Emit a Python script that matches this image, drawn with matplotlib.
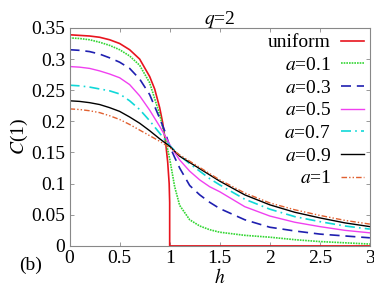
import numpy as np
import matplotlib
matplotlib.use("Agg")
import matplotlib.pyplot as plt

plt.rcParams['font.family'] = ['Liberation Serif', 'DejaVu Serif']
plt.rcParams['mathtext.fontset'] = 'stix'
plt.rcParams['font.size'] = 14

# values (q=2)
h = [0, 0.1, 0.2, 0.3, 0.4, 0.5, 0.6, 0.7, 0.8, 0.9, 0.95, 1.0, 1.05, 1.1,
     1.2, 1.3, 1.4, 1.5, 1.75, 2.0, 2.25, 2.5, 2.75, 3.0]

h_uniform = [0, 0.1, 0.2, 0.3, 0.4, 0.5, 0.6, 0.7, 0.8, 0.85, 0.9, 0.93,
             0.96, 0.98, 0.995, 1.0, 1.0, 3.0]
c_uniform = [0.339, 0.338, 0.337, 0.335, 0.331, 0.325, 0.315, 0.300, 0.272,
             0.252, 0.222, 0.198, 0.165, 0.135, 0.100, 0.070, 0.0, 0.0]

c_a01 = [0.334, 0.333, 0.331, 0.327, 0.322, 0.315, 0.305, 0.290, 0.262, 0.211,
         0.177, 0.140, 0.095, 0.065, 0.042, 0.032, 0.026, 0.022, 0.017, 0.014,
         0.010, 0.007, 0.005, 0.003]
c_a03 = [0.315, 0.314, 0.312, 0.308, 0.302, 0.295, 0.285, 0.268, 0.243, 0.205,
         0.185, 0.160, 0.142, 0.125, 0.097, 0.082, 0.070, 0.060, 0.042, 0.030,
         0.024, 0.019, 0.016, 0.013]
c_a05 = [0.288, 0.287, 0.285, 0.281, 0.276, 0.270, 0.259, 0.241, 0.218, 0.192,
         0.178, 0.163, 0.150, 0.138, 0.120, 0.106, 0.095, 0.087, 0.063, 0.048,
         0.038, 0.031, 0.025, 0.021]
c_a07 = [0.258, 0.257, 0.255, 0.252, 0.249, 0.244, 0.233, 0.219, 0.201, 0.181,
         0.171, 0.161, 0.153, 0.145, 0.132, 0.120, 0.108, 0.098, 0.075, 0.059,
         0.047, 0.039, 0.032, 0.027]
c_a09 = [0.233, 0.232, 0.230, 0.227, 0.222, 0.216, 0.207, 0.197, 0.185, 0.172,
         0.166, 0.160, 0.152, 0.144, 0.134, 0.124, 0.114, 0.104, 0.082, 0.066,
         0.054, 0.045, 0.037, 0.031]
c_a1 = [0.220, 0.219, 0.217, 0.214, 0.209, 0.203, 0.195, 0.186, 0.177, 0.168,
        0.163, 0.158, 0.152, 0.146, 0.136, 0.126, 0.116, 0.106, 0.085, 0.069,
        0.058, 0.049, 0.041, 0.035]

fig = plt.figure(figsize=(3.74, 2.97), dpi=100)
ax = fig.add_axes([0.186, 0.172, 0.803, 0.734])

ax.plot(h_uniform, c_uniform, color='#e8141e', lw=1.2, label='uniform')
ax.plot(h, c_a01, color='#33d633', lw=1.2, ls=(0, (1, 0.6)), label='$a$=0.1')
ax.plot(h, c_a03, color='#1f1fb0', lw=1.2, ls=(0, (6, 3.5)), label='$a$=0.3')
ax.plot(h, c_a05, color='#f040f0', lw=1.0, label='$a$=0.5')
ax.plot(h, c_a07, color='#10d8d8', lw=1.2, ls=(0, (6, 2.5, 1, 2.5)), label='$a$=0.7')
ax.plot(h, c_a09, color='black', lw=1.0, label='$a$=0.9')
ax.plot(h, c_a1, color='#e06030', lw=1.0, ls=(0, (4, 1.5, 1, 1.5, 1, 1.5)),
        label='$a$=1')

ax.set_xlim(0, 3)
ax.set_ylim(0, 0.35)
ax.set_xticks([0, 0.5, 1, 1.5, 2, 2.5, 3])
ax.set_xticklabels(['0', '0.5', '1', '1.5', '2', '2.5', '3'])
ax.set_yticks([0, 0.05, 0.1, 0.15, 0.2, 0.25, 0.3, 0.35])
ax.set_yticklabels(['0', '0.05', '0.1', '0.15', '0.2', '0.25', '0.3', '0.35'])
ax.tick_params(direction='in', top=True, right=True, length=3, width=0.6,
               color='#888888', pad=3)
for s in ax.spines.values():
    s.set_color('#888888')
    s.set_linewidth(0.8)

ax.set_xlabel('$h$', labelpad=1)
ax.set_ylabel('$C$(1)', labelpad=1)
ax.set_title('$q$=2', fontsize=14, pad=3)
fig.text(0.05, 0.09, '(b)', fontsize=14)

ax.legend(loc='upper right', frameon=False, markerfirst=False,
          handlelength=1.2, handletextpad=0.5, labelspacing=0.26,
          borderaxespad=0.1, borderpad=0.2, fontsize=14)

fig.savefig('out.png', dpi=100)
